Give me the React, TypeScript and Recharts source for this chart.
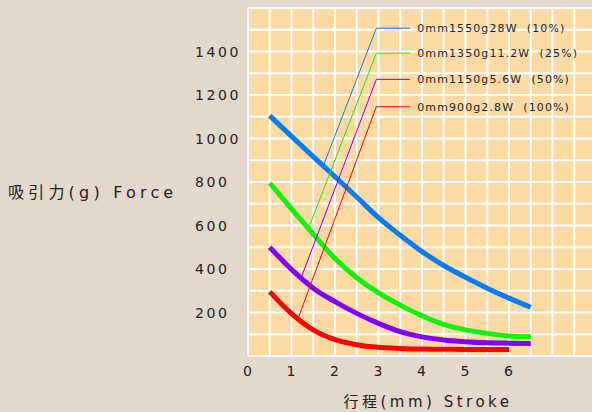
import React from 'react';
import { LineChart, Line, XAxis, YAxis, CartesianGrid } from 'recharts';

// Stroke (mm) sample positions
const strokeMm = [0.5, 1, 1.5, 2, 2.5, 3, 3.5, 4, 4.5, 5, 5.5, 6, 6.5];
// Force (g) per duty
const force10 = [1105, 1010, 917, 824, 731, 636, 555, 480, 416, 362, 312, 266, 224];
const force25 = [795, 676, 560, 448, 360, 290, 234, 185, 145, 120, 104, 92, 89];
const force50 = [500, 398, 312, 250, 196, 150, 112, 88, 74, 66, 61, 59, 58];
const force100 = [295, 195, 120, 75, 52, 40, 35, 32, 31, 30, 30, 30];

const seriesColors = ['#0a7cf2', '#14f00a', '#8000f8', '#ff0000'];
const legendLabels = [
  '0mm1550g28W  (10%)',
  '0mm1350g11.2W  (25%)',
  '0mm1150g5.6W  (50%)',
  '0mm900g2.8W  (100%)',
];
// leader lines: anchor on curve -> bend -> end
const leaderAnchorX = [1.71, 1.39, 1.21, 1.14];
const leaderAnchorY = [863, 586, 353, 166];
const legendY = [1507, 1392, 1272, 1146];
const legendBendX = 2.95;
const legendEndX = 3.73;

const xTicks = [0, 0.5, 1, 1.5, 2, 2.5, 3, 3.5, 4, 4.5, 5, 5.5, 6, 6.5, 7, 7.5, 8];
const xLabelTicks = [0, 1, 2, 3, 4, 5, 6];
const yTicks = [0, 100, 200, 300, 400, 500, 600, 700, 800, 900, 1000, 1100, 1200, 1300, 1400, 1500, 1600];
const yLabelTicks = [200, 400, 600, 800, 1000, 1200, 1400];

const forceSeries = [force10, force25, force50, force100];
const curveData = forceSeries.map((arr) => arr.map((v, i) => ({ x: strokeMm[i], y: v })));
const leaderData = leaderAnchorX.map((ax, i) => [
  { x: ax, y: leaderAnchorY[i] },
  { x: legendBendX, y: legendY[i] },
  { x: legendEndX, y: legendY[i] },
]);

const TEXT = '#222222';
const FONT = "'DejaVu Sans', 'Noto Sans CJK JP', sans-serif";

const XTick = (props: any) => {
  const { x, y, payload } = props;
  if (!xLabelTicks.includes(payload.value)) return null;
  return (
    <text x={x} y={y} dy={20} textAnchor="middle" fill={TEXT} fontSize={14} fontFamily={FONT} style={{ letterSpacing: 1 }}>
      {payload.value}
    </text>
  );
};

const YTick = (props: any) => {
  const { x, y, payload } = props;
  if (!yLabelTicks.includes(payload.value)) return null;
  return (
    <text x={x - 53} y={y} dy={5} textAnchor="start" fill={TEXT} fontSize={14} fontFamily={FONT} style={{ letterSpacing: 2.6 }}>
      {payload.value}
    </text>
  );
};

const makeLegendLabel = (i: number) => (props: any) => {
  const { x, y, index } = props;
  if (index !== 2) return null;
  return (
    <text x={x + 7} y={y} dy={4} fill={TEXT} fontSize={11} fontFamily={FONT} style={{ letterSpacing: 1.1, whiteSpace: 'pre' }}>
      {legendLabels[i]}
    </text>
  );
};

const YTitle = (props: any) => {
  const vb = props.viewBox;
  return (
    <text x={vb.x + 8} y={vb.y + vb.height / 2 + 16} fill={TEXT} fontSize={16} fontFamily={FONT} style={{ letterSpacing: 4.2 }}>
      吸引力(g) Force
    </text>
  );
};

const XTitle = (props: any) => {
  const vb = props.viewBox;
  return (
    <text x={vb.x + vb.width / 2 + 6} y={vb.y + 51} textAnchor="middle" fill={TEXT} fontSize={15} fontFamily={FONT} style={{ letterSpacing: 3.5 }}>
      行程(mm) Stroke
    </text>
  );
};

export default function App() {
  return (
    <div style={{ position: 'absolute', left: 0, top: 0, width: 592, height: 412, overflow: 'hidden', background: '#e3d8cb' }}>
      <LineChart width={596} height={412} margin={{ top: 8, right: 0, bottom: 0, left: 0 }}>
        <CartesianGrid fill="#fdd9a4" stroke="#ffffff" strokeWidth={2} />
        <XAxis
          type="number"
          dataKey="x"
          domain={[0, 8]}
          ticks={xTicks}
          interval={0}
          axisLine={false}
          tickLine={false}
          tickSize={0}
          tickMargin={0}
          height={56}
          tick={<XTick />}
          label={<XTitle />}
        />
        <YAxis
          type="number"
          dataKey="y"
          domain={[0, 1600]}
          ticks={yTicks}
          interval={0}
          axisLine={false}
          tickLine={false}
          tickSize={0}
          tickMargin={0}
          width={248}
          tick={<YTick />}
          label={<YTitle />}
        />
        {curveData.map((d, i) => (
          <Line
            key={'c' + i}
            data={d}
            dataKey="y"
            type="monotone"
            stroke={seriesColors[i]}
            strokeWidth={5}
            dot={false}
            activeDot={false}
            isAnimationActive={false}
          />
        ))}
        {leaderData.map((d, i) => (
          <Line
            key={'l' + i}
            data={d}
            dataKey="y"
            type="linear"
            stroke={seriesColors[i]}
            strokeWidth={1}
            dot={false}
            activeDot={false}
            isAnimationActive={false}
            label={makeLegendLabel(i)}
          />
        ))}
      </LineChart>
    </div>
  );
}
